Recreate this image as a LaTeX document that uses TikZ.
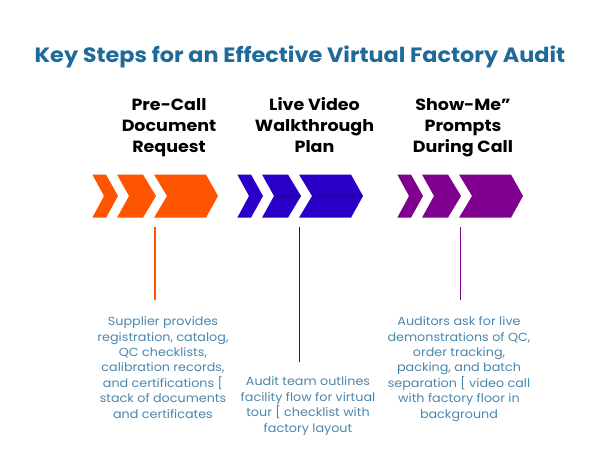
\documentclass[tikz,border=0pt]{standalone}
\usepackage{xcolor}
\usepackage{fontspec}
\setmainfont[FakeStretch=1.08]{Poppins}
\definecolor{TitleBlue}{HTML}{1F6A99}
\definecolor{BodyBlue}{HTML}{4A86AC}
\definecolor{AuditOrange}{HTML}{FF5500}
\definecolor{AuditIndigo}{HTML}{2A00C8}
\definecolor{AuditPurple}{HTML}{80008F}
\begin{document}
\begin{tikzpicture}[
x=1pt, y=-1pt,
titlenode/.style={align=center, text=TitleBlue, font=\fontsize{20.7}{25}\selectfont\bfseries},
headnode/.style={align=center, anchor=base, text=black, font=\fontsize{16.2}{21}\selectfont\bfseries},
bodynode/.style={align=center, anchor=base, text=BodyBlue, font=\fontsize{11.8}{15.4}\selectfont},
]
\useasboundingbox (0,0) rectangle (600,466);

%Title
\node[titlenode](Title) at (300,57){Key Steps for an Effective Virtual Factory Audit};

%Headers
\node[headnode](HeadDocs) at (169,152){Pre-Call\\Document\\Request};
\node[headnode](HeadVideo) at (314.5,152){Live Video\\Walkthrough\\Plan};
\node[headnode](HeadPrompts) at (463,152){Show-Me"\\Prompts\\During Call};

%Chevrons
\foreach \dx/\col in {0/AuditOrange, 145/AuditIndigo, 305/AuditPurple}{
  \begin{scope}[xshift=\dx pt]
    \fill[\col] (92.3,174.5) -- (106,174.5) -- (118,196) -- (106,217.7) -- (92.3,217.7) -- (104,196) -- cycle;
    \fill[\col] (117,174.5) -- (143,174.5) -- (156,196) -- (143,217.7) -- (117,217.7) -- (129,196) -- cycle;
    \fill[\col] (154,174.5) -- (206,174.5) -- (218,196) -- (206,217.7) -- (154,217.7) -- (167,196) -- cycle;
  \end{scope}
}
\draw[AuditIndigo!80!black, line width=.5pt] (274,196) -- (301,196);
\draw[AuditIndigo!80!black, line width=.5pt] (312,196) -- (363,196);

%Text
\node[bodynode](BodyDocs) at (163,418){Supplier provides\\registration, catalog,\\QC checklists,\\calibration records,\\and certifications [\\stack of documents\\and certificates};
\node[bodynode](BodyVideo) at (308,432){Audit team outlines\\facility flow for virtual\\tour [ checklist with\\factory layout};
\node[bodynode](BodyPrompts) at (459,418){Auditors ask for live\\demonstrations of QC,\\order tracking,\\packing, and batch\\separation [ video call\\with factory floor in\\background};

%Lines
\coordinate (DocsTop) at (155,227);
\coordinate (DocsEnd) at (155,300);
\coordinate (VideoTop) at (299.5,227);
\coordinate (VideoEnd) at (299.5,362);
\coordinate (PromptsTop) at (460.5,227);
\coordinate (PromptsEnd) at (460.5,300);
\draw[AuditOrange, line width=1.3pt] (DocsTop) -- (DocsEnd);
\draw[AuditIndigo, line width=1.5pt] (VideoTop) -- (VideoEnd);
\draw[AuditPurple, line width=1.5pt] (PromptsTop) -- (PromptsEnd);
\end{tikzpicture}
\end{document}
